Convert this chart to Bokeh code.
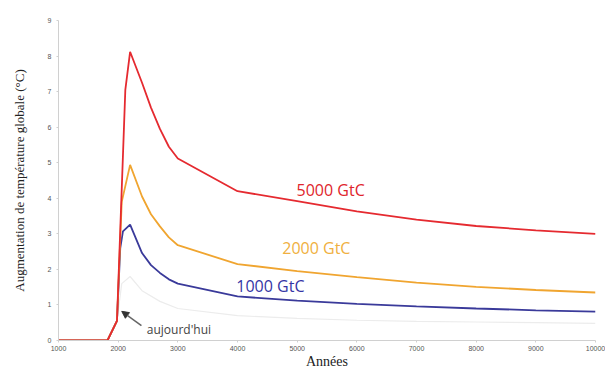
from bokeh.plotting import figure
from bokeh.models import Range1d, FixedTicker, Arrow, NormalHead
from bokeh.core.properties import value
from bokeh.embed import file_html
from bokeh.resources import INLINE

red_years = [1000, 1820, 1980, 2120, 2200, 2400, 2550, 2700, 2850, 3000, 4000, 5000, 6000, 7000, 8000, 9000, 10000]
red_5000 = [0, 0, 0.55, 7.05, 8.12, 7.25, 6.55, 5.95, 5.45, 5.12, 4.2, 3.92, 3.63, 3.4, 3.22, 3.1, 3.0]

orange_years = [1000, 1820, 1980, 2060, 2200, 2400, 2550, 2700, 2850, 3000, 4000, 5000, 6000, 7000, 8000, 9000, 10000]
orange_2000 = [0, 0, 0.55, 3.9, 4.94, 4.05, 3.55, 3.21, 2.9, 2.68, 2.15, 1.95, 1.78, 1.63, 1.51, 1.42, 1.35]

blue_years = [1000, 1820, 1980, 2035, 2080, 2200, 2400, 2550, 2700, 2850, 3000, 4000, 5000, 6000, 7000, 8000, 9000, 10000]
blue_1000 = [0, 0, 0.55, 2.6, 3.07, 3.26, 2.46, 2.12, 1.9, 1.72, 1.6, 1.24, 1.12, 1.03, 0.96, 0.9, 0.85, 0.81]

faint_years = [1000, 1820, 1980, 2060, 2200, 2400, 2700, 3000, 4000, 5000, 6000, 7000, 8000, 9000, 10000]
faint = [0, 0, 0.55, 1.6, 1.8, 1.4, 1.1, 0.9, 0.7, 0.62, 0.57, 0.54, 0.52, 0.5, 0.48]

x_ticks = [1000, 2000, 3000, 4000, 5000, 6000, 7000, 8000, 9000, 10000]
y_ticks = [0, 1, 2, 3, 4, 5, 6, 7, 8, 9]

labels = ["5000 GtC", "2000 GtC", "1000 GtC"]
label_x = [4990, 4750, 3980]
label_y = [4.24, 2.61, 1.54]
label_colors = ["#e0252c", "#f0b040", "#3535a5"]

p = figure(frame_width=537, frame_height=320, output_backend="svg", toolbar_location=None,
           x_range=Range1d(1000, 10000), y_range=Range1d(0, 9),
           min_border_left=58, min_border_top=20, min_border_right=10, min_border_bottom=5)
p.outline_line_color = None
p.xgrid.visible = False
p.ygrid.visible = False

p.line(faint_years, faint, line_color="#ececec", line_width=1.2)
p.line(blue_years, blue_1000, line_color="#3a3a9a", line_width=1.8)
p.line(orange_years, orange_2000, line_color="#f0a530", line_width=1.8)
p.line(red_years, red_5000, line_color="#e52a30", line_width=1.8)

p.text(x=label_x, y=label_y, text=labels, text_color=label_colors,
       text_font=value("Open Sans"), text_font_size="16px", text_baseline="middle", text_align="left")

p.add_layout(Arrow(end=NormalHead(size=7, fill_color="#333333", line_color="#333333"),
                   x_start=2390, y_start=0.42, x_end=2060, y_end=0.82,
                   line_color="#666666", line_width=1.5))
p.text(x=[2480], y=[0.3], text=["aujourd'hui"], text_color="#444444",
       text_font=value("Open Sans"), text_font_size="12px", text_baseline="middle", text_align="left")

for ax in (p.xaxis[0], p.yaxis[0]):
    ax.axis_line_color = "#d0d0d0"
    ax.major_tick_line_color = "#d0d0d0"
    ax.minor_tick_line_color = None
    ax.major_tick_in = 0
    ax.major_tick_out = 2
    ax.major_label_text_font_size = "7px"
    ax.major_label_text_color = "#555555"
    ax.axis_label_text_font = "Liberation Serif"
    ax.axis_label_text_font_style = "normal"
    ax.axis_label_text_color = "#222222"

p.xaxis.ticker = FixedTicker(ticks=x_ticks)
p.yaxis.ticker = FixedTicker(ticks=y_ticks)
p.xaxis.axis_label = "Années"
p.xaxis.axis_label_text_font_size = "14px"
p.xaxis.axis_label_standoff = 0
p.xaxis.major_label_standoff = 3
p.yaxis.axis_label = "Augmentation de température globale (°C)"
p.yaxis.axis_label_text_font_size = "13px"
p.yaxis.axis_label_standoff = 18
p.yaxis.major_label_standoff = 5

open("out.html", "w").write(file_html(p, INLINE))
